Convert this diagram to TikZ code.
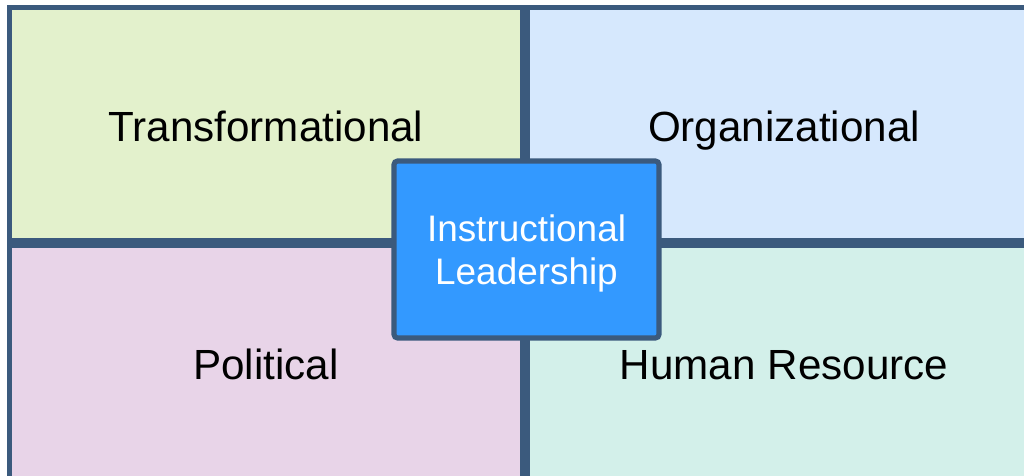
\documentclass[tikz,border=0pt]{standalone}
\usepackage{fontspec}
\setmainfont{Liberation Sans}
\usepackage{tikz}
\usetikzlibrary{positioning}
\usepackage{xcolor}

\definecolor{edgeblue}{HTML}{3B5A7D}
\definecolor{transgreen}{HTML}{E3F1CC}
\definecolor{orgblue}{HTML}{D6E8FD}
\definecolor{polpink}{HTML}{E8D4E8}
\definecolor{hrteal}{HTML}{D3F0EA}
\definecolor{instrblue}{HTML}{3399FF}

\begin{document}
\begin{tikzpicture}[
  frame/.style={draw=edgeblue, line width=1.45pt, inner sep=0pt,
                minimum width=5.13cm, minimum height=2.33cm, text height=10pt, text depth=0pt,
                font=\fontsize{12}{14}\selectfont},
  core/.style={draw=edgeblue, line width=1.45pt, rounded corners=1pt, fill=instrblue,
               minimum width=2.65cm, minimum height=1.77cm, text=white, align=center,
               text depth=0pt, font=\fontsize{10.5}{12.3}\selectfont}
]
\useasboundingbox (0,0) rectangle (10.24,4.75);

%%%%%%%%%% Four frames %%%%%%%%
{
\node[frame, fill=transgreen, anchor=south east] (trans) at (5.25,2.32) {Transformational};
\node[frame, fill=orgblue, right=0cm of trans] (org) {Organizational};
\node[frame, fill=polpink, below=0cm of trans] (pol) {Political};
\node[frame, fill=hrteal, right=0cm of pol] (hr) {Human Resource};
}

%%%%%%%%%%%%     Centre box   %%%%%%%%%%%%
{
\node[core] (instr) at (5.265,2.255) {Instructional\\Leadership};
}

\end{tikzpicture}
\end{document}
